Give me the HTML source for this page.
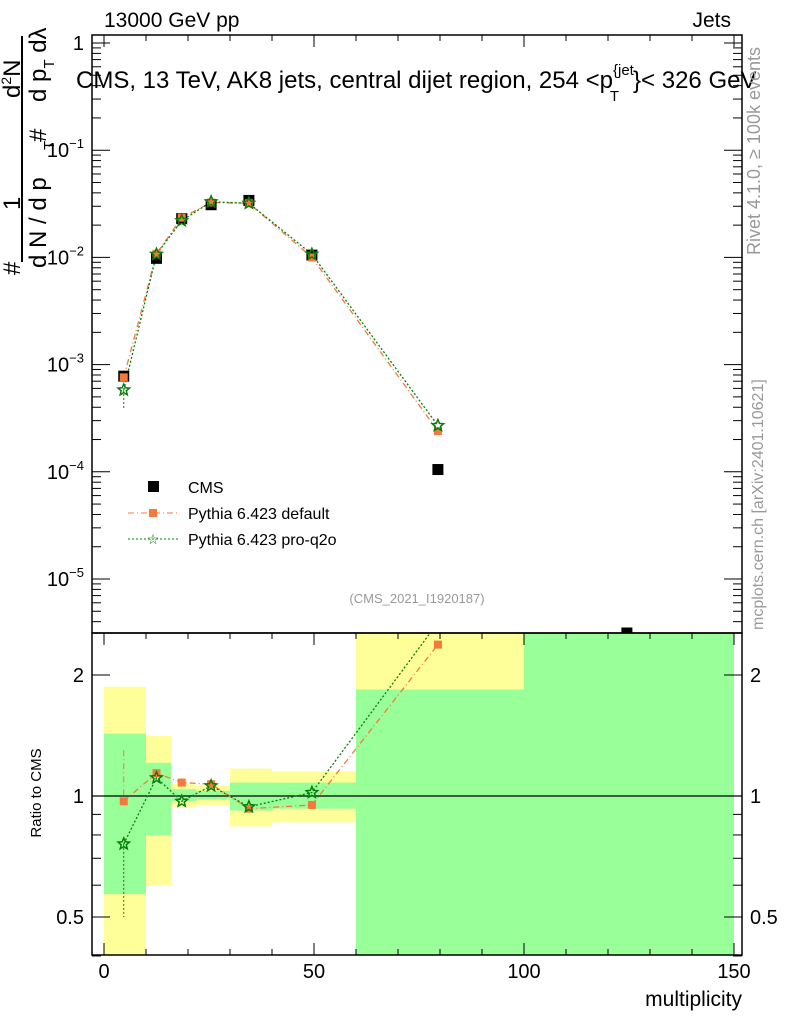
<!DOCTYPE html>
<html><head><meta charset="utf-8"><style>
body{margin:0;background:#fff}
svg{display:block;font-family:"Liberation Sans",sans-serif}
</style></head><body>
<svg id="c" width="786" height="1024">
<g id="bands"></g>
<g id="frames"></g>
<g id="series"></g>
<g id="ticks"></g>
<text x="104" y="27" font-size="21">13000 GeV pp</text>
<text x="731" y="27" font-size="21" text-anchor="end">Jets</text>
<text x="76" y="88" font-size="24">CMS, 13 TeV, AK8 jets, central dijet region, 254 &lt;p<tspan font-size="15" dy="-13">{jet</tspan><tspan font-size="15" dx="-24" dy="26">T</tspan><tspan dy="-13" dx="14">}&lt; 326 GeV</tspan></text>
<text transform="translate(760,255) rotate(-90)" font-size="18" fill="#999">Rivet 4.1.0, ≥ 100k events</text>
<text transform="translate(763,630) rotate(-90)" font-size="16" fill="#999">mcplots.cern.ch [arXiv:2401.10621]</text>
<text x="417" y="603" font-size="13" fill="#999" text-anchor="middle">(CMS_2021_I1920187)</text>
<text x="742" y="1006" font-size="21" text-anchor="end">multiplicity</text>
<text transform="translate(41,793) rotate(-90)" font-size="15" text-anchor="middle">Ratio to CMS</text>
<g font-size="24">
<text transform="translate(20,275) rotate(-90)">#</text>
<text transform="translate(20,210) rotate(-90)">1</text>
<line x1="22" y1="36" x2="22" y2="262" stroke="#000" stroke-width="2"/>
<text transform="translate(46,268) rotate(-90)">d N / d p</text>
<text transform="translate(54,150) rotate(-90)" font-size="15">T</text>
<text transform="translate(46,142) rotate(-90)">#</text>
<text transform="translate(20,98) rotate(-90)">d<tspan font-size="14" dy="-9">2</tspan><tspan dy="9">N</tspan></text>
<text transform="translate(46,102) rotate(-90)">d p<tspan font-size="15" dy="8">T</tspan><tspan dy="-8"> d</tspan>λ</text>
</g>
<g font-size="16">
<rect x="148" y="481" width="11" height="11" fill="#000"/>
<text x="188" y="493">CMS</text>
<line x1="128" y1="513" x2="180" y2="513" stroke="#f5793a" stroke-dasharray="6,3,1,3"/>
<rect x="149" y="509" width="8" height="8" fill="#f5793a"/>
<text x="188" y="519">Pythia 6.423 default</text>
<line x1="128" y1="539" x2="180" y2="539" stroke="#0a7d0a" stroke-dasharray="2,2"/>
<text x="153" y="544" fill="#0a7d0a" font-size="14" text-anchor="middle">☆</text>
<text x="188" y="545">Pythia 6.423 pro-q2o</text>
</g>
</svg>
<script>
const xs=[4.7,12.5,18.5,25.5,34.5,49.5,79.5];
const cms=[7.8e-4,9.8e-3,2.3e-2,3.1e-2,3.4e-2,1.05e-2,1.05e-4];
const pyDef=[7.6e-4,1.08e-2,2.35e-2,3.25e-2,3.2e-2,1.0e-2,2.4e-4];
const pyQ2o=[5.8e-4,1.07e-2,2.2e-2,3.3e-2,3.2e-2,1.07e-2,2.7e-4];
const cmsExtraX=[124.5];const cmsExtraY=[3.1e-6];
const ratioDef=[0.97,1.14,1.08,1.07,0.93,0.95,2.38];
const ratioQ2o=[0.76,1.11,0.97,1.06,0.94,1.02,2.7];
const binEdges=[0,10,16,22,30,40,60,100,150];
const yelLo=[0.3,0.6,0.94,0.95,0.84,0.86,1.84,0.1];
const yelHi=[1.87,1.41,1.07,1.06,1.17,1.15,5,5];
const grnLo=[0.57,0.8,0.97,0.98,0.92,0.93,0.1,0.1];
const grnHi=[1.43,1.21,1.04,1.03,1.08,1.08,1.84,5];
const NS='http://www.w3.org/2000/svg';
const L=92,R=742,T=35,MB=633,RB=955;
const X=v=>104+v*4.2;
const Y=v=>43-107.2*Math.log10(v);
const RY=v=>796-402*Math.log10(v);
function mk(p,t,a){const e=document.createElementNS(NS,t);for(const k in a)e.setAttribute(k,a[k]);document.getElementById(p).appendChild(e);return e;}
const clampR=v=>Math.max(MB,Math.min(RB,v));
for(let i=0;i<8;i++){
 const x0=X(binEdges[i]),x1=X(binEdges[i+1]);
 let r=mk('bands','rect',{x:x0,y:clampR(RY(yelHi[i])),width:x1-x0,height:clampR(RY(yelLo[i]))-clampR(RY(yelHi[i])),fill:'#ffff99'});
 
 
 r=mk('bands','rect',{x:x0,y:clampR(RY(grnHi[i])),width:x1-x0,height:clampR(RY(grnLo[i]))-clampR(RY(grnHi[i])),fill:'#99ff99'});
 
 
}
mk('frames','rect',{x:L,y:T,width:R-L,height:MB-T,fill:'none',stroke:'#000','stroke-width':1.5});
mk('frames','rect',{x:L,y:MB,width:R-L,height:RB-MB,fill:'none',stroke:'#000','stroke-width':1.5});
mk('frames','line',{x1:L,x2:R,y1:RY(1),y2:RY(1),stroke:'#000','stroke-width':1.2});
for(let v=0;v<=150;v+=10){const big=v%50==0,h=big?12:6;
 for(const[a,b]of[[T,1],[MB,1],[RB,-1]]){mk('ticks','line',{x1:X(v),x2:X(v),y1:a,y2:a+b*h,stroke:'#000'});}
 if(big){const t=mk('ticks','text',{x:X(v),y:978,'font-size':20,'text-anchor':'middle'});t.textContent=v;}}
for(let d=-6;d<=0;d++)for(let m=1;m<10;m++){const v=m*Math.pow(10,d),y=Y(v);if(y<T||y>MB)continue;const h=m==1?18:9;
 mk('ticks','line',{x1:L,x2:L+h,y1:y,y2:y,stroke:'#000'});mk('ticks','line',{x1:R,x2:R-h,y1:y,y2:y,stroke:'#000'});
 if(m==1){const t=mk('ticks','text',{x:84,y:y+7,'font-size':20,'text-anchor':'end'});if(d==0)t.textContent='1';else{t.textContent='10';const s=document.createElementNS(NS,'tspan');s.setAttribute('dy','-9');s.setAttribute('font-size','13');s.textContent='−'+(-d);t.appendChild(s);}}}
for(const v of [0.4,0.5,0.6,0.7,0.8,0.9,1,2]){const y=RY(v);const h=(v==0.5||v==1||v==2)?18:9;
 mk('ticks','line',{x1:L,x2:L+h,y1:y,y2:y,stroke:'#000'});mk('ticks','line',{x1:R,x2:R-h,y1:y,y2:y,stroke:'#000'});
 if(h==18){const lab=v==0.5?'0.5':String(v);let t=mk('ticks','text',{x:84,y:y+7,'font-size':20,'text-anchor':'end'});t.textContent=lab;t=mk('ticks','text',{x:750,y:y+7,'font-size':20});t.textContent=lab;}}
function star(g,x,y,r){let p='';for(let i=0;i<10;i++){const a=-Math.PI/2+i*Math.PI/5,rr=i%2?r*0.45:r;p+=(x+rr*Math.cos(a))+','+(y+rr*Math.sin(a))+' ';}return mk(g,'polygon',{points:p,fill:'none',stroke:'#0a7d0a','stroke-width':1.5});}
let pd=xs.map((x,i)=>X(x)+','+Y(pyDef[i])).join(' ');
let e=mk('series','polyline',{points:pd,fill:'none',stroke:'#f5793a','stroke-width':1.3,'stroke-dasharray':'6,3,1,3'});


pd=xs.map((x,i)=>X(x)+','+Y(pyQ2o[i])).join(' ');
e=mk('series','polyline',{points:pd,fill:'none',stroke:'#0a7d0a','stroke-width':1.3,'stroke-dasharray':'2,2'});


mk('series','line',{x1:X(xs[0]),x2:X(xs[0]),y1:Y(pyQ2o[0]),y2:Y(3.8e-4),stroke:'#0a7d0a','stroke-dasharray':'2,2'});
xs.forEach((x,i)=>{e=mk('series','rect',{x:X(x)-5.5,y:Y(cms[i])-5.5,width:11,height:11,fill:'#000'});
 
 });
cmsExtraX.forEach((x,i)=>{const y=Math.min(Y(cmsExtraY[i]),MB);e=mk('series','rect',{x:X(x)-5.5,y:y-5.5,width:11,height:5.5,fill:'#000'});
 
 });
xs.forEach((x,i)=>{e=mk('series','rect',{x:X(x)-4,y:Y(pyDef[i])-4,width:8,height:8,fill:'#f5793a'});
 
 });
xs.forEach((x,i)=>{e=star('series',X(x),Y(pyQ2o[i]),6);
 
 });
const clip=mk('series','clipPath',{id:'rc'});const cr=document.createElementNS(NS,'rect');cr.setAttribute('x',L);cr.setAttribute('y',MB);cr.setAttribute('width',R-L);cr.setAttribute('height',RB-MB);clip.appendChild(cr);
const rg=mk('series','g',{'clip-path':'url(#rc)'});rg.id='rg';
pd=xs.map((x,i)=>X(x)+','+RY(ratioDef[i])).join(' ');
e=mk('rg','polyline',{points:pd,fill:'none',stroke:'#f5793a','stroke-width':1.3,'stroke-dasharray':'6,3,1,3'});


pd=xs.map((x,i)=>X(x)+','+RY(ratioQ2o[i])).join(' ');
e=mk('rg','polyline',{points:pd,fill:'none',stroke:'#0a7d0a','stroke-width':1.3,'stroke-dasharray':'2,2'});


mk('rg','line',{x1:X(xs[0]),x2:X(xs[0]),y1:RY(ratioQ2o[0]),y2:RY(0.5),stroke:'#0a7d0a','stroke-dasharray':'2,2'});
mk('rg','line',{x1:X(xs[0]),x2:X(xs[0]),y1:RY(1.3),y2:RY(ratioDef[0]),stroke:'#f5793a','stroke-dasharray':'6,3,1,3'});
xs.forEach((x,i)=>{e=mk('rg','rect',{x:X(x)-4,y:RY(ratioDef[i])-4,width:8,height:8,fill:'#f5793a'});
 
 });
xs.forEach((x,i)=>{e=star('rg',X(x),RY(ratioQ2o[i]),6);
 
 });
</script>
</body></html>
